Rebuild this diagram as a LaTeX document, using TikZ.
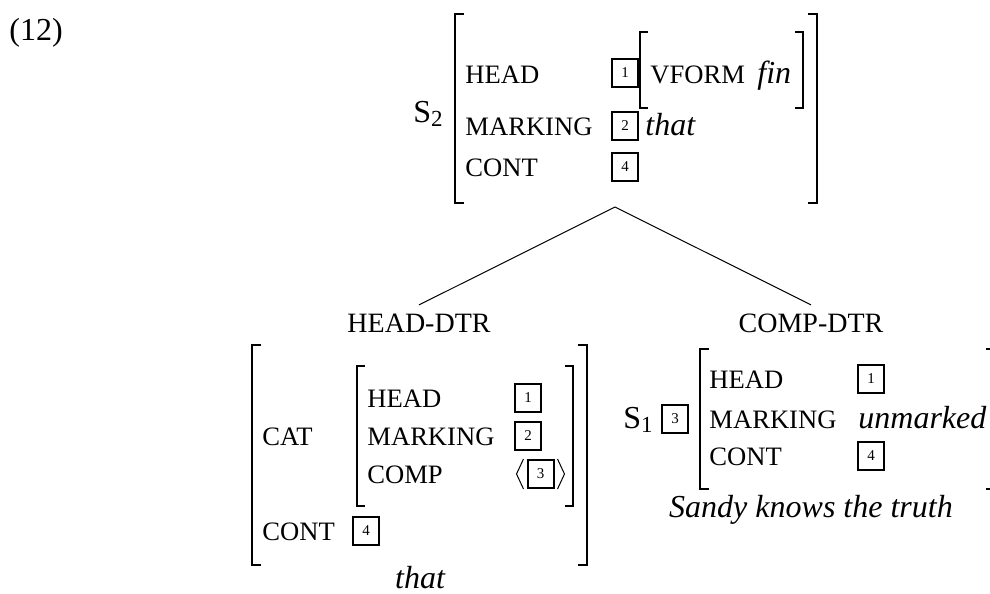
\documentclass[tikz,border=0pt]{standalone}
\usepackage{fontspec}
\setmainfont{Liberation Serif}
\tikzset{
  mainfont/.style={anchor=base west, inner sep=0pt, font=\fontsize{16}{19}\selectfont},
  lbl/.style={anchor=base west, inner sep=0pt, font=\fontsize{13.3}{16}\selectfont},
  dtr/.style={anchor=base, inner sep=0pt, outer ysep=4.3pt, font=\fontsize{14}{16}\selectfont},
  val/.style={anchor=base west, inner sep=0pt, font=\fontsize{16}{19}\selectfont\itshape},
  tagbox/.style={draw, line width=1pt, minimum width=13pt, minimum height=14pt, inner sep=0pt, font=\fontsize{7.5}{9}\selectfont},
  brk/.style={line width=1pt},
  edge/.style={line width=0.5pt},
}
\newcommand{\subnum}[1]{\raisebox{-2pt}{\fontsize{11.5}{12}\selectfont #1}}
\begin{document}
\begin{tikzpicture}[x=0.5pt,y=-0.5pt]
\clip (0,0) rectangle (990,594);
\node[mainfont] (ex) at (9,40) {(12)};
% top AVM
\node[mainfont] (s2) at (413,122) {S\subnum{2}};
\draw[brk] (464,14) -- (455,14) -- (455,203) -- (464,203);
\draw[brk] (808,14) -- (817,14) -- (817,203) -- (808,203);
\node[lbl] (t-head) at (465,83) {HEAD};
\node[tagbox] (t-b1) at (625,73) {1};
\draw[brk] (648,32) -- (640,32) -- (640,108) -- (648,108);
\draw[brk] (795,32) -- (803,32) -- (803,108) -- (795,108);
\node[lbl] (t-vform) at (650,83) {VFORM};
\node[val] (t-fin) at (757,83) {fin};
\node[lbl] (t-mark) at (465,135) {MARKING};
\node[tagbox] (t-b2) at (625,126) {2};
\node[val] (t-that) at (645,135) {that};
\node[lbl] (t-cont) at (465,176) {CONT};
\node[tagbox] (t-b4) at (625,167) {4};
\coordinate (apex) at (615,207);
% daughters
\node[dtr] (hd) at (419,332) {HEAD-DTR};
\node[dtr] (cd) at (811,332) {COMP-DTR};
\draw[edge] (apex) -- (hd.north);
\draw[edge] (apex) -- (cd.north);
% left AVM
\draw[brk] (261,345) -- (252,345) -- (252,565) -- (261,565);
\draw[brk] (578,345) -- (587,345) -- (587,565) -- (578,565);
\node[lbl] (l-cat) at (262,445) {CAT};
\draw[brk] (365,366) -- (357,366) -- (357,506) -- (365,506);
\draw[brk] (565,366) -- (573,366) -- (573,506) -- (565,506);
\node[lbl] (l-head) at (367,407) {HEAD};
\node[tagbox] (l-b1) at (528,398) {1};
\node[lbl] (l-mark) at (367,445) {MARKING};
\node[tagbox] (l-b2) at (528,436) {2};
\node[lbl] (l-comp) at (367,483) {COMP};
\node[tagbox] (l-b3) at (540.5,474) {3};
\draw[edge] ([xshift=-1.5pt,yshift=7.5pt]l-b3.west) -- ([xshift=-5pt]l-b3.west) -- ([xshift=-1.5pt,yshift=-7.5pt]l-b3.west);
\draw[edge] ([xshift=1.5pt,yshift=7.5pt]l-b3.east) -- ([xshift=5pt]l-b3.east) -- ([xshift=1.5pt,yshift=-7.5pt]l-b3.east);
\node[lbl] (l-cont) at (262,540) {CONT};
\node[tagbox] (l-b4) at (366,531) {4};
\node[val, anchor=base] (l-word) at (420,588) {that};
% right AVM
\node[mainfont] (s1) at (623,428) {S\subnum{1}};
\node[tagbox] (r-b3) at (675,419) {3};
\draw[brk] (709,349) -- (700,349) -- (700,489) -- (709,489);
\draw[brk] (986,349) -- (995,349) -- (995,489) -- (986,489);
\node[lbl] (r-head) at (709,388) {HEAD};
\node[tagbox] (r-b1) at (871,379) {1};
\node[lbl] (r-mark) at (709,428) {MARKING};
\node[val] (r-unm) at (858,428) {unmarked};
\node[lbl] (r-cont) at (709,465) {CONT};
\node[tagbox] (r-b4) at (871,456) {4};
\node[val, anchor=base] (r-word) at (811,517) {Sandy knows the truth};
\end{tikzpicture}
\end{document}
